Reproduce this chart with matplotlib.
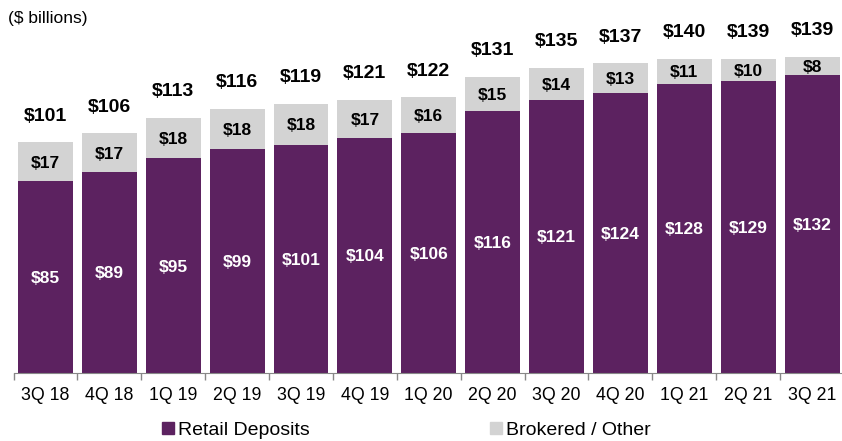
import matplotlib
matplotlib.use("Agg")
import matplotlib.pyplot as plt
from matplotlib.lines import Line2D
import numpy as np

plt.rcParams['font.family'] = ['Liberation Sans', 'DejaVu Sans']

categories = ["3Q 18", "4Q 18", "1Q 19", "2Q 19", "3Q 19", "4Q 19", "1Q 20",
              "2Q 20", "3Q 20", "4Q 20", "1Q 21", "2Q 21", "3Q 21"]
retail = [85, 89, 95, 99, 101, 104, 106, 116, 121, 124, 128, 129, 132]
brokered = [17, 17, 18, 18, 18, 17, 16, 15, 14, 13, 11, 10, 8]
totals = [101, 106, 113, 116, 119, 121, 122, 131, 135, 137, 140, 139, 139]

purple = "#5C2260"
gray = "#D3D3D3"

W, H = 842, 441
fig = plt.figure(figsize=(W / 100, H / 100), dpi=100)
ax_left = 13.5 / W
ax_right = 844 / W
ax_bottom = (H - 373) / H
ax_top = (H - 10) / H
ax = fig.add_axes([ax_left, ax_bottom, ax_right - ax_left, ax_top - ax_bottom])

x = np.arange(len(categories))
bw = 0.86
ax.bar(x, retail, width=bw, color=purple, edgecolor='none')
ax.bar(x, brokered, width=bw, bottom=retail, color=gray, edgecolor='none')

for i in range(len(categories)):
    ax.text(x[i], retail[i] / 2, f"${retail[i]}", ha='center', va='center_baseline',
            color='white', fontsize=12.5, fontweight='bold')
    ax.text(x[i], retail[i] + brokered[i] / 2, f"${brokered[i]}", ha='center',
            va='center_baseline', color='black', fontsize=12.5, fontweight='bold')
    ax.text(x[i], retail[i] + brokered[i] + 12.5, f"${totals[i]}", ha='center',
            va='center_baseline', color='black', fontsize=14, fontweight='bold')

ax.set_xlim(-0.5, len(categories) - 0.5)
ax.set_ylim(0, 363 / 2.26)
ax.set_xticks(x)
ax.set_xticklabels(categories, fontsize=12.8)
ax.tick_params(axis='x', which='major', length=0, pad=10)
ax.set_xticks(np.arange(len(categories) + 1) - 0.5, minor=True)
ax.tick_params(axis='x', which='minor', length=5, color='#888888', width=1)
ax.set_yticks([])
for s in ['top', 'right', 'left']:
    ax.spines[s].set_visible(False)
ax.spines['bottom'].set_color('#888888')

fig.text(8 / W, 1 - 18 / H, "($ billions)", fontsize=12.5, ha='left', va='center')

handles = [Line2D([], [], marker='s', linestyle='none', color=purple, markersize=8.6),
           Line2D([], [], marker='s', linestyle='none', color=gray, markersize=8.6)]
fig.legend(handles, ["Retail Deposits", "Brokered / Other"], loc='center',
           bbox_to_anchor=(406 / W, 1 - 430 / H), ncol=2, frameon=False,
           fontsize=14, handlelength=0.7, handletextpad=0.2, columnspacing=9.2,
           borderpad=0, borderaxespad=0)

fig.savefig("out.png", dpi=100)
